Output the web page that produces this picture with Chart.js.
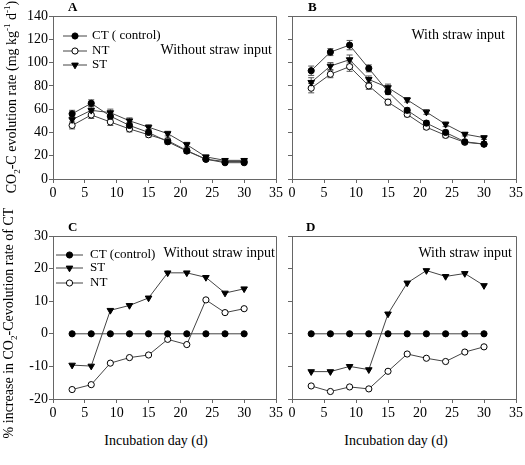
<!DOCTYPE html>
<html>
<head>
<meta charset="utf-8">
<script src="https://cdn.jsdelivr.net/npm/chart.js@4.4.1/dist/chart.umd.min.js"></script>
<style>
  body { margin: 0; background: #fff; }
  #wrap { position: relative; width: 525px; height: 465px; font-family: "Liberation Serif", "DejaVu Serif", serif; color: #000; }
  canvas { position: absolute; }
  .ttl { position: absolute; white-space: nowrap; font-size: 14px; }
  .rot { transform: translate(-50%, -50%) rotate(-90deg); }
  .ctr { transform: translate(-50%, -50%); }
  sub, sup { font-size: 9px; }
</style>
</head>
<body>
<div id="wrap">
  <canvas id="panelA" width="285" height="200" style="left:0;top:0"></canvas>
  <canvas id="panelB" width="240" height="200" style="left:285px;top:0"></canvas>
  <canvas id="panelC" width="285" height="200" style="left:0;top:220px"></canvas>
  <canvas id="panelD" width="240" height="200" style="left:285px;top:220px"></canvas>
  <div class="ttl rot" style="left:12px;top:97px">CO<sub>2</sub>-C evolution rate (mg kg<sup>-1</sup> d<sup>-1</sup>)</div>
  <div class="ttl rot" style="left:10px;top:323px">% increase in CO<sub>2</sub>-Cevolution rate of CT</div>
  <div class="ttl ctr" style="left:156px;top:441px">Incubation day (d)</div>
  <div class="ttl ctr" style="left:396px;top:441px">Incubation day (d)</div>
</div>
<script>
const days = [3, 6, 9, 12, 15, 18, 21, 24, 27, 30];

// A: without straw input (mg kg-1 d-1)
const ctA = [56, 65, 54, 46, 40, 32, 24, 17, 14, 14];
const ntA = [46, 55, 49, 43, 38, 33, 24.5, 17, 15, 15];
const stA = [51, 59, 57, 50, 44.5, 39, 29.5, 19, 16, 16];
const ctAErr = [3, 3, 3, 2.5, 2, 2, 2, 1.5, 1, 1];
const ntAErr = [3, 3, 3, 2.5, 2, 2, 2, 1.5, 1, 1];
const stAErr = [3, 3, 3, 2.5, 2, 2, 2, 1.5, 1, 1];

// B: with straw input
const ctB = [93, 109, 115, 95, 75, 59, 48, 40, 32, 30];
const ntB = [78, 90, 96.5, 80, 66, 55.5, 44.5, 37.5, 31.5, 30];
const stB = [83, 97, 102.5, 85.5, 78.5, 68, 57.5, 47, 38.5, 35.5];
const ctBErr = [4, 3, 4, 3, 2.5, 2, 2, 2, 1.5, 1.5];
const ntBErr = [4, 3, 4, 3, 2.5, 2, 2, 2, 1.5, 1.5];
const stBErr = [4, 3, 4, 3, 3, 2, 2, 2, 1.5, 1.5];

// C / D: % increase relative to CT
const ctC = [0, 0, 0, 0, 0, 0, 0, 0, 0, 0];
const stC = [-9.6, -9.9, 7.2, 8.7, 11, 18.7, 18.7, 17.3, 12.5, 13.8];
const ntC = [-17.1, -15.6, -9, -7.3, -6.5, -1.7, -3.3, 10.4, 6.5, 7.7];
const ctD = [0, 0, 0, 0, 0, 0, 0, 0, 0, 0];
const stD = [-11.6, -11.6, -10, -11, 6.1, 15.6, 19.4, 17.6, 18.5, 14.8];
const ntD = [-16, -17.7, -16.3, -16.9, -11.5, -6.2, -7.5, -8.5, -5.6, -4];

const xTicks = [0, 5, 10, 15, 20, 25, 30, 35];
const rateTicks = [0, 20, 40, 60, 80, 100, 120, 140];
const pctTicks = [-20, -10, 0, 10, 20, 30];

const serif = '"Liberation Serif", "DejaVu Serif", serif';
const axisGrey = '#666';

const styles = {
  CT: { pointStyle: 'circle', pointRadius: 3.1, rotation: 0, fill: '#000' },
  NT: { pointStyle: 'circle', pointRadius: 3.1, rotation: 0, fill: '#fff' },
  ST: { pointStyle: 'triangle', pointRadius: 3.8, rotation: 180, fill: '#000' }
};

function series(name, values, err) {
  const s = styles[name];
  return {
    label: name,
    data: days.map((d, i) => ({ x: d, y: values[i] })),
    err: err,
    borderColor: '#444',
    borderWidth: 1,
    pointStyle: s.pointStyle,
    pointRotation: s.rotation,
    pointRadius: s.pointRadius,
    pointBackgroundColor: s.fill,
    pointBorderColor: '#000',
    pointBorderWidth: 1,
    tension: 0
  };
}

// frame, error bars, letter, note and legend
const deco = {
  id: 'deco',
  beforeDatasetsDraw(chart) {
    const ctx = chart.ctx;
    const y = chart.scales.y;
    ctx.save();
    ctx.strokeStyle = '#555';
    ctx.lineWidth = 1;
    chart.data.datasets.forEach((ds, di) => {
      if (!ds.err) return;
      chart.getDatasetMeta(di).data.forEach((pt, i) => {
        const v = ds.data[i].y, e = ds.err[i];
        const top = y.getPixelForValue(v + e), bot = y.getPixelForValue(v - e);
        ctx.beginPath();
        ctx.moveTo(pt.x, top); ctx.lineTo(pt.x, bot);
        ctx.moveTo(pt.x - 3, top); ctx.lineTo(pt.x + 3, top);
        ctx.moveTo(pt.x - 3, bot); ctx.lineTo(pt.x + 3, bot);
        ctx.stroke();
      });
    });
    ctx.restore();
  },
  afterDraw(chart, args, opts) {
    const ctx = chart.ctx;
    const a = chart.chartArea;
    ctx.save();
    ctx.strokeStyle = axisGrey;
    ctx.lineWidth = 1;
    ctx.beginPath();
    ctx.moveTo(a.left, a.top + 0.5); ctx.lineTo(a.right + 0.5, a.top + 0.5); ctx.lineTo(a.right + 0.5, a.bottom);
    ctx.stroke();

    ctx.fillStyle = '#000';
    ctx.font = 'bold 13px ' + serif;
    ctx.textBaseline = 'middle';
    ctx.textAlign = 'left';
    ctx.fillText(opts.letter, a.left + opts.letterX, a.top - 8);

    ctx.font = '14px ' + serif;
    ctx.textAlign = 'right';
    ctx.fillText(opts.note, a.right - opts.noteX, a.top + opts.noteY);

    if (opts.legend) {
      const L = opts.legend;
      ctx.font = '13px ' + serif;
      ctx.textAlign = 'left';
      L.items.forEach((it, i) => {
        const yy = a.top + L.rows[i];
        const s = styles[it.key];
        ctx.strokeStyle = '#444';
        ctx.beginPath();
        ctx.moveTo(a.left + L.x0, yy); ctx.lineTo(a.left + L.x1, yy);
        ctx.stroke();
        ctx.fillStyle = s.fill;
        ctx.strokeStyle = '#000';
        ctx.lineWidth = 1;
        Chart.helpers.drawPoint(ctx, { pointStyle: s.pointStyle, rotation: s.rotation, radius: s.pointRadius, borderWidth: 1 },
          a.left + (L.x0 + L.x1) / 2, yy);
        ctx.fillStyle = '#000';
        ctx.fillText(it.text, a.left + L.tx, yy);
      });
    }
    ctx.restore();
  }
};

function makePanel(id, datasets, yRange, yTickVals, showY, deco_opts) {
  new Chart(document.getElementById(id), {
    type: 'line',
    data: { datasets: datasets },
    plugins: [deco],
    options: {
      responsive: false,
      animation: false,
      layout: { padding: { top: 16, right: 8, left: 0, bottom: 0 } },
      plugins: { legend: { display: false }, tooltip: { enabled: false }, deco: deco_opts },
      scales: {
        x: {
          type: 'linear', min: 0, max: 35,
          afterBuildTicks: (s) => { s.ticks = xTicks.map(v => ({ value: v })); },
          ticks: { color: '#000', font: { family: serif, size: 14 }, padding: 2, maxRotation: 0, autoSkip: false },
          grid: { drawOnChartArea: false, tickLength: 4, color: axisGrey },
          border: { color: axisGrey },
          afterFit: (s) => { s.height = 21; }
        },
        y: {
          min: yRange[0], max: yRange[1],
          afterBuildTicks: (s) => { s.ticks = yTickVals.map(v => ({ value: v })); },
          ticks: { display: showY, color: '#000', font: { family: serif, size: 14 }, padding: 1 },
          grid: { drawOnChartArea: false, tickLength: 4, color: axisGrey },
          border: { color: axisGrey },
          afterFit: (s) => { s.width = showY ? 53 : 7; }
        }
      }
    }
  });
}

makePanel('panelA',
  [series('ST', stA, stAErr), series('CT', ctA, ctAErr), series('NT', ntA, ntAErr)],
  [0, 140], rateTicks, true,
  { letter: 'A', letterX: 15, note: 'Without straw input', noteX: 4, noteY: 34,
    legend: { x0: 10, x1: 34, tx: 39, rows: [20, 35, 49],
      items: [{ key: 'CT', text: 'CT ( control)' }, { key: 'NT', text: 'NT' }, { key: 'ST', text: 'ST' }] } });

makePanel('panelB',
  [series('ST', stB, stBErr), series('CT', ctB, ctBErr), series('NT', ntB, ntBErr)],
  [0, 140], rateTicks, false,
  { letter: 'B', letterX: 16, note: 'With straw input', noteX: 11, noteY: 19 });

makePanel('panelC',
  [series('CT', ctC), series('ST', stC), series('NT', ntC)],
  [-20, 30], pctTicks, true,
  { letter: 'C', letterX: 15, note: 'Without straw input', noteX: 1, noteY: 17,
    legend: { x0: 3, x1: 30, tx: 37, rows: [19, 32, 47],
      items: [{ key: 'CT', text: 'CT (control)' }, { key: 'ST', text: 'ST' }, { key: 'NT', text: 'NT' }] } });

makePanel('panelD',
  [series('CT', ctD), series('ST', stD), series('NT', ntD)],
  [-20, 30], pctTicks, false,
  { letter: 'D', letterX: 14, note: 'With straw input', noteX: 4, noteY: 17 });
</script>
</body>
</html>
